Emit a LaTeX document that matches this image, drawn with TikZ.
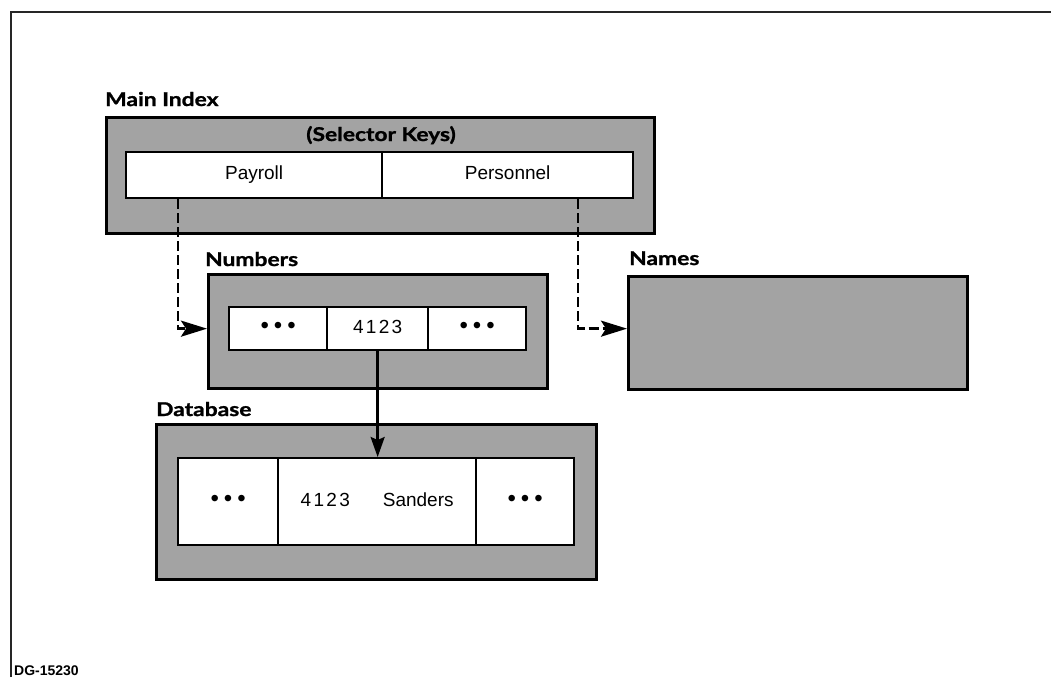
\documentclass[tikz,border=0pt]{standalone}
\usepackage{fontspec}
\setmainfont{Liberation Sans}
\newfontfamily\lblfont{Lato}[FakeStretch=1.2, BoldFeatures={FakeBold=1.3}]
\usetikzlibrary{arrows.meta,calc}
\newcommand\dotsrow{\textbullet\kern5pt\textbullet\kern5pt\textbullet}
\newcommand\fournum{4\kern2.3pt1\kern2.3pt2\kern2.3pt3}
\begin{document}
\begin{tikzpicture}[x=1pt,y=-1pt,
  outerbox/.style={draw=black, line width=2.8pt, fill=black!36, anchor=north west, inner sep=0pt},
  cell/.style={draw=black, line width=2.3pt, fill=white, anchor=north west, inner sep=0pt,
    text height=13pt, text depth=4pt, font=\fontsize{19}{21}\selectfont},
  lbl/.style={anchor=base west, inner sep=0pt, font=\lblfont\bfseries\fontsize{19}{21}\selectfont},
  dotfont/.style={font=\fontsize{24}{24}\selectfont, text height=9pt, text depth=0pt},
  dashconn/.style={line width=2.6pt, dash pattern=on 10pt off 4pt, -{Stealth[length=26pt,width=16pt,inset=5pt]}},
  solidconn/.style={line width=2.4pt, -{Stealth[length=20pt,width=14pt,inset=3pt]}},
  frame/.style={line width=1.3pt, draw=black!85}
]
\useasboundingbox (0,0) rectangle (1051,677);
% frame
\coordinate (fbl) at (11,677);
\coordinate (ftl) at (11,12);
\coordinate (ftr) at (1051,12);
\draw[frame] (fbl) -- (ftl) -- (ftr);
\node[anchor=base west, inner sep=0pt, font=\bfseries\fontsize{14}{16}\selectfont] (dg) at (14,675) {DG-15230};

% Main Index
\node[lbl] (lmain) at (105,106) {Main Index};
\node[outerbox, minimum width=548pt, minimum height=116pt] (mainidx) at (105,116) {};
\node[anchor=base, inner sep=0pt, font=\lblfont\bfseries\fontsize{19}{21}\selectfont] (selk) at (381,141) {(Selector Keys)};
\node[cell, minimum width=256pt, minimum height=46pt] (payroll) at (125,151) {Payroll};
\node[cell, minimum width=251pt, minimum height=46pt] (personnel) at (381,151) {Personnel};

% Numbers
\node[lbl] (lnum) at (205,266) {Numbers};
\node[outerbox, minimum width=339pt, minimum height=114pt] (numbers) at (207,273) {};
\node[cell, minimum width=98pt, minimum height=43pt, dotfont] (numc1) at (228,306) {\dotsrow};
\node[cell, minimum width=101pt, minimum height=43pt] (numc2) at (326,306) {\fournum};
\node[cell, minimum width=98pt, minimum height=43pt, dotfont] (numc3) at (427,306) {\dotsrow};

% Names
\node[lbl] (lnames) at (629,265) {Names};
\node[outerbox, minimum width=339pt, minimum height=113pt] (names) at (627,275) {};

% Database
\node[lbl] (ldb) at (156,416) {Database};
\node[outerbox, minimum width=440pt, minimum height=155pt] (database) at (155,423) {};
\node[cell, minimum width=100pt, minimum height=87pt, dotfont] (dbc1) at (177,457) {\dotsrow};
\node[cell, minimum width=198pt, minimum height=87pt] (dbc2) at (277,457) {\fournum\hskip33pt Sanders};
\node[cell, minimum width=98pt, minimum height=87pt, dotfont] (dbc3) at (475,457) {\dotsrow};

% connectors
\draw[dashconn] ($(payroll.south west)+(53,0)$) |- (numbers.west |- numc1.west);
\draw[dashconn] ($(personnel.south west)+(197,0)$) |- (names.west |- numc1.west);
\draw[solidconn] (numc2.south) -- (numc2.south |- dbc2.north);
\end{tikzpicture}
\end{document}
